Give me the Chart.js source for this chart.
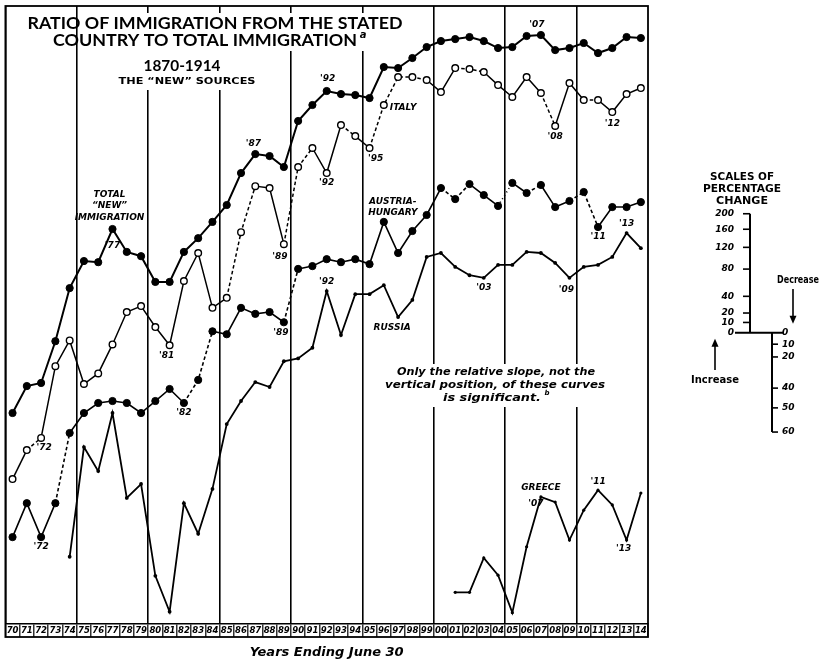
<!DOCTYPE html>
<html>
<head>
<meta charset="utf-8">
<script src="https://cdn.jsdelivr.net/npm/chart.js@4.4.0/dist/chart.umd.min.js"></script>
<style>
  html, body { margin: 0; padding: 0; background: #fff; }
  #wrap { width: 820px; height: 661px; }
</style>
</head>
<body>
<div id="wrap"><canvas id="chart"></canvas></div>
<script>
// fiscal years 1870-1914, shown as two-digit labels
var yearLabels = ['70','71','72','73','74','75','76','77','78','79',
                  '80','81','82','83','84','85','86','87','88','89',
                  '90','91','92','93','94','95','96','97','98','99',
                  '00','01','02','03','04','05','06','07','08','09',
                  '10','11','12','13','14'];
var firstYear = 1870;

// ratio curves, plotted on a ratio (log) scale; units are relative only
var totalNew = [7.01, 8.99, 9.25, 13.6, 22.2, 28.5, 28.2, 38.3, 31.0, 29.8,
                23.5, 23.5, 31.0, 35.2, 40.9, 47.8, 64.2, 76.5, 75.1, 67.9,
                103.8, 120.3, 136.9, 133.1, 131.9, 128.3, 170.8, 169.2, 185.6, 205.4,
                217.1, 221.1, 225.3, 217.1, 203.5, 205.4, 227.4, 229.5, 199.7, 203.5,
                213.2, 194.3, 203.5, 225.3, 223.2];
var italy = [3.81, 4.98, 5.57, 10.8, 13.7, 9.16, 10.1, 13.2, 17.8, 18.8,
             15.5, 13.1, 23.7, 30.7, 18.5, 20.3, 37.2, 56.9, 55.9, 33.3,
             67.9, 80.9, 64.2, 100, 90.3, 80.9, 120.3, 155.7, 155.7, 151.5,
             135.6, 169.2, 167.6, 163.1, 144.6, 129.5, 155.7, 134.4, 99.1, 147.3,
             126.0, 126.0, 112.7, 133.1, 140.7];
var austria = [2.23, 3.05, 2.23, 3.05, 5.83, 7.01, 7.69, 7.83, 7.69, 7.01,
               7.83, 8.75, 7.69, 9.51, 14.9, 14.5, 18.5, 17.5, 17.8, 16.2,
               26.5, 27.2, 29.0, 28.2, 29.0, 27.7, 40.9, 30.7, 37.6, 43.6,
               55.9, 50.5, 58.0, 52.4, 47.4, 58.6, 53.4, 57.5, 46.9, 49.6,
               53.9, 39.0, 46.9, 46.9, 49.1];
var russia = [null, null, null, null, 1.86, 5.12, 4.10, 7.01, 3.20, 3.64,
              1.56, 1.12, 3.05, 2.30, 3.48, 6.33, 7.83, 9.33, 8.91, 11.3,
              11.6, 12.8, 21.6, 14.4, 21.0, 21.0, 22.8, 17.0, 19.9, 29.6,
              30.7, 27.0, 25.0, 24.4, 27.5, 27.5, 31.0, 30.7, 28.0, 24.4,
              27.0, 27.5, 29.6, 36.9, 32.1];
var greece = [null, null, null, null, null, null, null, null, null, null,
              null, null, null, null, null, null, null, null, null, null,
              null, null, null, null, null, null, null, null, null, null,
              null, 1.34, 1.34, 1.84, 1.57, 1.11, 2.04, 3.23, 3.08, 2.17,
              2.86, 3.44, 3.00, 2.17, 3.35];

// years where the segment to the next year is drawn broken
var italyDashed = [1871, 1885, 1886, 1889, 1890, 1893, 1895, 1896, 1897, 1898,
                   1901, 1902, 1907, 1910];
var austriaDashed = [1873, 1882, 1883, 1889, 1900, 1901, 1906, 1909, 1910];
var austriaDotted = [1904];

// percentage change scale, hung from an arbitrary level of the ratio axis
var increaseTicks = [0, 10, 20, 40, 80, 120, 160, 200];
var decreaseTicks = [0, 10, 20, 40, 50, 60];
var scaleBase = 14.7;

// labels attached to points: [series, year, text, dx, dy, align]
var notes = [
  [0, 1877, 'TOTAL', -3, -34],
  [0, 1877, '\u201CNEW\u201D', -3, -23],
  [0, 1877, 'IMMIGRATION', -3, -11],
  [0, 1877, "'77", 0, 17],
  [0, 1887, "'87", -2, -10],
  [0, 1892, "'92", 1, -12],
  [0, 1907, "'07", -4, -10],
  [1, 1872, "'72", 3, 10],
  [1, 1881, "'81", -3, 10],
  [1, 1889, "'89", -4, 12],
  [1, 1892, "'92", 0, 10],
  [1, 1895, "'95", 6, 11],
  [1, 1896, 'ITALY', 6, 3, 'left'],
  [1, 1908, "'08", 0, 11],
  [1, 1912, "'12", 0, 12],
  [2, 1872, "'72", 0, 10],
  [2, 1882, "'82", 0, 10],
  [2, 1889, "'89", -3, 10],
  [2, 1896, 'AUSTRIA-', 9, -20],
  [2, 1896, 'HUNGARY', 9, -9],
  [2, 1911, "'11", 0, 10],
  [3, 1892, "'92", 0, -9],
  [3, 1897, 'RUSSIA', -6, 11],
  [3, 1903, "'03", 0, 10],
  [3, 1909, "'09", -3, 12],
  [3, 1913, "'13", 0, -9],
  [4, 1907, 'GREECE', 0, -9],
  [4, 1907, "'07", -5, 7],
  [4, 1911, "'11", 0, -8],
  [4, 1913, "'13", -3, 9]
];

var FONT = '"DejaVu Sans", sans-serif';

function dashFor(list, dotted) {
  return function (c) {
    var yr = firstYear + c.p0DataIndex;
    if (dotted && dotted.indexOf(yr) >= 0) return [1, 3];
    return list.indexOf(yr) >= 0 ? [3.5, 2.5] : undefined;
  };
}

// draw text, optionally squeezed/stretched to a given width
function put(ctx, text, x, y, font, align, width) {
  ctx.font = font;
  ctx.textAlign = align || 'center';
  ctx.textBaseline = 'middle';
  if (width) {
    var w = ctx.measureText(text).width;
    ctx.save();
    ctx.translate(x, y);
    ctx.scale(width / w, 1);
    ctx.fillText(text, 0, 0);
    ctx.restore();
  } else {
    ctx.fillText(text, x, y);
  }
}

function arrow(ctx, x, y1, y2) {
  var d = y2 > y1 ? 1 : -1;
  ctx.beginPath();
  ctx.moveTo(x, y1);
  ctx.lineTo(x, y2 - d * 5);
  ctx.stroke();
  ctx.beginPath();
  ctx.moveTo(x, y2);
  ctx.lineTo(x - 3.5, y2 - d * 8);
  ctx.lineTo(x + 3.5, y2 - d * 8);
  ctx.closePath();
  ctx.fill();
}

var decor = {
  id: 'decor',
  beforeDatasetsDraw: function (chart) {
    var ctx = chart.ctx;
    ctx.save();
    ctx.fillStyle = '#fff';
    // keep the grid out from under the heading and the note
    ctx.fillRect(85, 13, 322, 38);
    ctx.fillRect(112, 50, 150, 40);
    ctx.fillRect(380, 364, 236, 43);
    ctx.fillStyle = '#000';
    put(ctx, 'RATIO OF IMMIGRATION FROM THE STATED', 215, 24, 'bold 17px Lato', 'center', 375);
    put(ctx, 'COUNTRY TO TOTAL IMMIGRATION', 205, 41, 'bold 17px Lato', 'center', 304);
    put(ctx, 'a', 363, 35, 'italic bold 10px ' + FONT, 'center');
    put(ctx, '1870-1914', 182, 66, 'bold 15px Lato', 'center', 77);
    put(ctx, 'THE \u201CNEW\u201D SOURCES', 187, 82, 'bold 9px ' + FONT, 'center', 137);
    var nf = 'italic bold 11px ' + FONT;
    put(ctx, 'Only the relative slope, not the', 496, 372, nf, 'center', 198);
    put(ctx, 'vertical position, of these curves', 495, 385, nf, 'center', 220);
    put(ctx, 'is significant.', 492, 398, nf, 'center', 98);
    put(ctx, 'b', 547, 393, 'italic bold 7px ' + FONT, 'center');
    ctx.restore();
  },
  afterDraw: function (chart) {
    var ctx = chart.ctx, a = chart.chartArea, xs = chart.scales.x, ys = chart.scales.y;
    var tl = xs.options.grid.tickLength;
    ctx.save();
    ctx.strokeStyle = '#000';
    ctx.fillStyle = '#000';
    ctx.lineWidth = 1.8;
    ctx.strokeRect(a.left, a.top, a.right - a.left, a.bottom + tl - a.top);

    // point labels
    var lf = 'italic bold 9px ' + FONT;
    notes.forEach(function (n) {
      var p = chart.getDatasetMeta(n[0]).data[n[1] - firstYear];
      put(ctx, n[2], p.x + n[3], p.y + n[4], lf, n[5] || 'center');
    });

    // scales of percentage change
    var y0 = ys.getPixelForValue(scaleBase);
    var up = function (p) { return ys.getPixelForValue(scaleBase * (1 + p / 100)); };
    var down = function (p) { return ys.getPixelForValue(scaleBase * (1 - p / 100)); };
    var ax = 750, dx = 772;
    var hf = 'bold 10px ' + FONT;
    put(ctx, 'SCALES OF', 742, 177, hf, 'center', 64);
    put(ctx, 'PERCENTAGE', 742, 189, hf, 'center', 78);
    put(ctx, 'CHANGE', 742, 201, hf, 'center', 52);
    ctx.lineWidth = 2;
    ctx.beginPath();
    ctx.moveTo(ax, up(200)); ctx.lineTo(ax, y0);
    ctx.moveTo(735, y0); ctx.lineTo(784, y0);
    ctx.moveTo(dx, y0); ctx.lineTo(dx, down(60));
    ctx.stroke();
    var sf = 'italic bold 9px ' + FONT;
    ctx.lineWidth = 1.6;
    increaseTicks.forEach(function (p) {
      var y = up(p);
      if (p > 0) {
        ctx.beginPath(); ctx.moveTo(ax - 7, y); ctx.lineTo(ax, y); ctx.stroke();
      }
      put(ctx, String(p), 734, y, sf, 'right');
    });
    decreaseTicks.forEach(function (p) {
      var y = down(p);
      if (p > 0) {
        ctx.beginPath(); ctx.moveTo(dx, y); ctx.lineTo(dx + 6, y); ctx.stroke();
      }
      put(ctx, String(p), dx + 10, y, sf, 'left');
    });
    put(ctx, 'Decrease', 798, 280, 'bold 11px ' + FONT, 'center', 42);
    arrow(ctx, 793, 289, y0 - 9);
    put(ctx, 'Increase', 715, 380, 'bold 11px ' + FONT, 'center', 48);
    arrow(ctx, 715, 370, y0 + 6);
    ctx.restore();
  }
};

var tickFont = { family: FONT, size: 8.5, weight: 'bold', style: 'italic' };

new Chart(document.getElementById('chart'), {
  type: 'line',
  data: {
    labels: yearLabels,
    datasets: [
      {
        label: 'Total "new" immigration',
        data: totalNew,
        borderColor: '#000', borderWidth: 2,
        pointRadius: 3.6, pointBackgroundColor: '#000', pointBorderColor: '#000', pointBorderWidth: 1
      },
      {
        label: 'Italy',
        data: italy,
        borderColor: '#000', borderWidth: 1.5,
        segment: { borderDash: dashFor(italyDashed) },
        pointRadius: 3.3, pointBackgroundColor: '#fff', pointBorderColor: '#000', pointBorderWidth: 1.4
      },
      {
        label: 'Austria-Hungary',
        data: austria,
        borderColor: '#000', borderWidth: 1.6,
        segment: { borderDash: dashFor(austriaDashed, austriaDotted) },
        pointRadius: 3.6, pointBackgroundColor: '#000', pointBorderColor: '#000', pointBorderWidth: 1
      },
      {
        label: 'Russia',
        data: russia,
        borderColor: '#000', borderWidth: 1.8,
        pointRadius: 1.9, pointBackgroundColor: '#000', pointBorderColor: '#000', pointBorderWidth: 0
      },
      {
        label: 'Greece',
        data: greece,
        borderColor: '#000', borderWidth: 1.8,
        pointRadius: 1.6, pointBackgroundColor: '#000', pointBorderColor: '#000', pointBorderWidth: 0
      }
    ]
  },
  options: {
    responsive: true,
    maintainAspectRatio: false,
    animation: false,
    devicePixelRatio: 1,
    layout: { padding: { left: 5, top: 6, right: 172, bottom: 0 } },
    plugins: { legend: { display: false }, tooltip: { enabled: false } },
    elements: { line: { tension: 0 } },
    scales: {
      x: {
        type: 'category',
        offset: true,
        grid: {
          offset: true,
          drawOnChartArea: true,
          color: function (c) { return c.index % 5 === 0 ? '#000' : 'rgba(0,0,0,0)'; },
          lineWidth: 1.6,
          tickLength: 13,
          tickColor: '#000',
          tickWidth: 1.2
        },
        border: { display: true, color: '#000', width: 1.6 },
        ticks: { autoSkip: false, maxRotation: 0, minRotation: 0, padding: -11, color: '#000', font: tickFont },
        title: {
          display: true,
          text: 'Years Ending June 30',
          color: '#000',
          font: { family: FONT, size: 13, weight: 'bold', style: 'italic' },
          padding: { top: 0, bottom: 1 }
        },
        afterFit: function (s) { s.height = 37; }
      },
      y: {
        type: 'logarithmic',
        min: 1,
        max: 300,
        display: false
      }
    }
  },
  plugins: [decor]
});
</script>
</body>
</html>
